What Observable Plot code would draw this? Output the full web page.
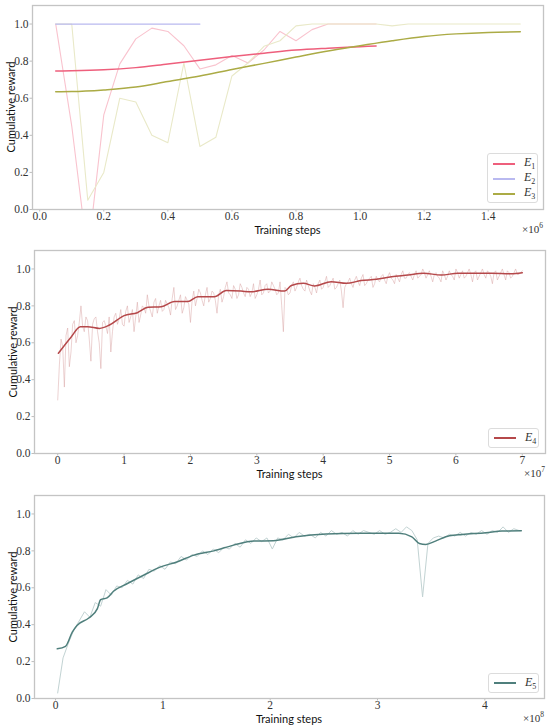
<!DOCTYPE html>
<html><head><meta charset="utf-8">
<script src="https://cdn.jsdelivr.net/npm/d3@7"></script>
<script src="https://cdn.jsdelivr.net/npm/@observablehq/plot@0.6"></script>
<style>
body{margin:0;background:#fff;}
#root{position:relative;width:550px;height:726px;overflow:hidden;}
.panel{position:absolute;left:0;width:550px;}
.panel svg{display:block;}
.lab{position:absolute;font-family:"Lato",sans-serif;font-size:11px;line-height:11px;color:#111;white-space:nowrap;}
.ylab{transform:translate(-50%,-50%) rotate(-90deg);}
.xlab{transform:translate(-50%,-50%);}
.mult{position:absolute;font-family:"Liberation Serif",serif;font-size:11px;line-height:11px;color:#333;transform:translate(-100%,-50%);}
.legend{position:absolute;border:1px solid #dcdcdc;border-radius:3px;background:#fff;box-sizing:border-box;padding:1px 0;}
.lrow{display:flex;align-items:center;height:15px;}
.lline{width:22px;height:2px;margin:0 9px 0 5px;}
.ltxt{font-family:"Liberation Serif",serif;font-style:italic;font-size:12px;color:#333;}
.ltxt sub{font-style:normal;font-size:8px;}
</style></head>
<body><div id="root"></div>
<script>
// ---------- Panel 1 (x in units of 1e6 training steps) ----------
const e1Raw = [1.0,0.45,-0.25,0.51,0.785,0.92,0.978,0.96,0.883,0.758,0.78,0.83,0.79,0.86,0.96,0.91,0.97,1.0,1.0,1.0,1.0];
const e2Raw = [1.0,1.0,1.0,1.0,1.0,1.0,1.0,1.0,1.0,1.0];
const e3Raw = [1.0,1.0,0.05,0.2,0.6,0.58,0.4,0.36,0.79,0.34,0.39,0.72,0.79,0.88,0.91,0.99,1.0,1.0,1.0,1.0,1.0,0.99,1.0,1.0,1.0,1.0,1.0,1.0,1.0,1.0];
const p1RawStart = 0.05, p1RawStep = 0.05;
const e1SmoothX = [0.05,0.1,0.2,0.3,0.4,0.5,0.6,0.7,0.8,0.9,1.0,1.05];
const e1Smooth  = [0.747,0.748,0.753,0.765,0.785,0.805,0.825,0.843,0.86,0.87,0.878,0.882];
const e3SmoothX = [0.05,0.1,0.2,0.3,0.4,0.5,0.6,0.7,0.8,0.9,1.0,1.1,1.2,1.3,1.4,1.5];
const e3Smooth  = [0.635,0.636,0.645,0.66,0.69,0.72,0.755,0.788,0.822,0.855,0.883,0.91,0.933,0.947,0.955,0.958];

// ---------- Panel 2 (x in units of 1e7) ----------
const e4RawStart = 0.0, e4RawStep = 0.05;
const e4Raw = [0.29,0.62,0.36,0.68,0.55,0.72,0.64,0.80,0.66,0.72,0.50,0.73,0.66,0.46,0.72,0.65,0.55,0.74,0.70,0.78,
0.69,0.80,0.74,0.66,0.82,0.75,0.79,0.86,0.77,0.82,0.76,0.83,0.78,0.81,0.75,0.90,0.80,0.86,0.79,0.83,
0.71,0.88,0.84,0.87,0.80,0.90,0.84,0.87,0.76,0.89,0.85,0.93,0.86,0.91,0.84,0.92,0.87,0.90,0.85,0.92,
0.86,0.94,0.87,0.92,0.88,0.91,0.86,0.93,0.66,0.89,0.87,0.93,0.90,0.95,0.89,0.94,0.88,0.92,0.87,0.94,
0.90,0.96,0.91,0.95,0.90,0.94,0.79,0.92,0.95,0.90,0.96,0.91,0.97,0.92,0.95,0.90,0.96,0.93,0.97,0.92,
0.98,0.94,0.97,0.93,0.99,0.95,0.98,0.94,0.99,0.96,1.00,0.95,0.99,0.93,0.98,0.95,0.99,0.94,0.99,0.96,
1.00,0.95,0.99,0.96,1.00,0.93,0.99,0.96,1.00,0.95,0.98,0.92,0.99,0.96,1.00,0.94,0.98,0.96,1.00,0.97,0.99];
// in-between samples (x = 0.025 + 0.05 i)
const e4RawMidStart = 0.025;
const e4RawMid = [0.48,0.58,0.64,0.47,0.70,0.60,0.71,0.69,0.74,0.62,
0.70,0.74,0.60,0.71,0.69,0.74,0.66,0.76,0.73,0.70,
0.77,0.71,0.78,0.74,0.71,0.80,0.76,0.80,0.74,0.84,
0.80,0.77,0.83,0.79,0.84,0.78,0.83,0.76,0.85,0.81,
0.83,0.80,0.89,0.83,0.86,0.82,0.88,0.83,0.86,0.82,
0.90,0.87,0.84,0.89,0.86,0.90,0.85,0.89,0.87,0.84,
0.89,0.86,0.91,0.87,0.93,0.89,0.87,0.80,0.90,0.86,
0.91,0.88,0.93,0.91,0.88,0.91,0.86,0.90,0.92,0.89,
0.93,0.90,0.93,0.89,0.92,0.88,0.90,0.93,0.92,0.94,
0.93,0.95,0.91,0.94,0.96,0.92,0.94,0.96,0.94,0.96,
0.95,0.92,0.95,0.97,0.95,0.97,0.96,0.97,0.95,0.97,
0.98,0.97,0.96,0.97,0.96,0.93,0.97,0.96,0.97,0.94,
0.98,0.97,0.95,0.98,0.97,0.98,0.94,0.98,0.97,0.99,
0.96,0.98,0.94,0.98,0.97,0.99,0.95,0.98,0.97,0.98];
const e4SmoothX = [0.01,0.2,0.34,0.45,0.63,0.78,1.0,1.2,1.36,1.56,1.76,1.96,2.11,2.36,2.54,2.76,2.91,3.17,3.42,3.52,3.70,3.87,4.12,4.35,4.57,4.80,5.03,5.28,5.51,5.78,6.03,6.53,6.83,7.0];
const e4Smooth  = [0.543,0.63,0.687,0.687,0.678,0.696,0.747,0.763,0.792,0.795,0.823,0.823,0.85,0.85,0.883,0.88,0.876,0.89,0.88,0.91,0.922,0.908,0.931,0.922,0.937,0.944,0.958,0.967,0.977,0.967,0.977,0.977,0.974,0.98];

// ---------- Panel 3 (x in units of 1e8) ----------
const e5RawStart = 0.02, e5RawStep = 0.05;
const e5Raw = [0.03,0.22,0.30,0.37,0.42,0.47,0.44,0.52,0.50,0.59,0.56,0.61,0.60,0.64,0.62,0.67,0.65,0.70,0.69,0.72,
0.70,0.74,0.73,0.77,0.75,0.78,0.77,0.80,0.78,0.81,0.79,0.82,0.81,0.84,0.82,0.86,0.84,0.87,0.85,0.87,
0.81,0.87,0.86,0.89,0.87,0.90,0.88,0.89,0.87,0.90,0.88,0.91,0.89,0.90,0.88,0.91,0.89,0.91,0.90,0.89,
0.91,0.89,0.90,0.92,0.90,0.93,0.91,0.86,0.55,0.84,0.87,0.88,0.87,0.89,0.88,0.90,0.88,0.90,0.89,0.91,
0.89,0.91,0.90,0.93,0.90,0.92,0.91];
const e5SmoothX = [0.016,0.093,0.156,0.2,0.31,0.39,0.42,0.48,0.54,0.67,0.82,0.98,1.13,1.29,1.475,1.66,1.85,2.03,2.24,2.52,2.83,3.20,3.32,3.39,3.45,3.54,3.67,3.79,4.01,4.16,4.34];
const e5Smooth  = [0.269,0.283,0.36,0.396,0.436,0.487,0.535,0.545,0.581,0.623,0.668,0.713,0.74,0.777,0.80,0.831,0.853,0.855,0.876,0.891,0.895,0.895,0.876,0.84,0.835,0.853,0.882,0.889,0.898,0.907,0.909];

// ---------- Legend / styling ----------
const legend1 = [{name:"E",sub:"1",color:"#ee5f7c"},{name:"E",sub:"2",color:"#b9b9f0"},{name:"E",sub:"3",color:"#abab45"}];
const legend2 = [{name:"E",sub:"4",color:"#b5484a"}];
const legend3 = [{name:"E",sub:"5",color:"#4f7f7c"}];
const yTicks = [0,0.2,0.4,0.6,0.8,1.0];

const pts = (xs, ys) => ys.map((y,i)=>({x:xs[i], y}));
const grid = (start, step, ys) => ys.map((y,i)=>({x:start+i*step, y}));
const f1 = d3.format(".1f");
const e4RawData = grid(e4RawStart,e4RawStep,e4Raw).concat(grid(e4RawMidStart,e4RawStep,e4RawMid)).sort((a,b)=>a.x-b.x);

function makePanel({top,height,mt,mb,ml,mr,xdom,xticks,xfmt,lines,legend,legendBox,mult,ylabX}) {
  const div = document.createElement("div");
  div.className = "panel"; div.style.top = top+"px"; div.style.height = height+"px";
  const chart = Plot.plot({
    width:550, height, marginTop:mt, marginBottom:mb, marginLeft:ml, marginRight:mr,
    x:{domain:xdom}, y:{domain:[0,1.1]},
    style:{fontFamily:"Liberation Serif",fontSize:"11.5px",color:"#333",background:"white"},
    marks:[
      ...lines,
      Plot.axisY({ticks:yTicks, tickFormat:f1, tickSize:2.5, tickPadding:1.5, stroke:"#bdbdbd", label:null}),
      Plot.axisX({ticks:xticks, tickFormat:xfmt, tickSize:2.5, tickPadding:0, stroke:"#bdbdbd", label:null}),
      Plot.frame({stroke:"#c4c4c4", strokeWidth:1.3})
    ]
  });
  div.appendChild(chart);
  const fTop = mt, fBot = height-mb, fL = ml, fR = 550-mr;
  const yl = document.createElement("div"); yl.className="lab ylab"; yl.textContent="Cumulative reward";
  yl.style.left = ylabX+"px"; yl.style.top = ((fTop+fBot)/2)+"px"; div.appendChild(yl);
  const xl = document.createElement("div"); xl.className="lab xlab"; xl.textContent="Training steps";
  xl.style.left = ((fL+fR)/2)+"px"; xl.style.top = (fBot+19.5)+"px"; div.appendChild(xl);
  const m = document.createElement("div"); m.className="mult"; m.innerHTML = "×10<sup style='font-size:7.5px;vertical-align:5px;line-height:0'>"+mult+"</sup>";
  m.style.left = (fR)+"px"; m.style.top = (fBot+19.5)+"px"; div.appendChild(m);
  const lg = document.createElement("div"); lg.className="legend";
  Object.assign(lg.style,{left:legendBox[0]+"px",top:legendBox[1]+"px",width:legendBox[2]+"px",height:legendBox[3]+"px"});
  lg.style.paddingTop = legendBox[4]+"px";
  for (const e of legend) {
    const r = document.createElement("div"); r.className="lrow";
    r.innerHTML = `<div class="lline" style="background:${e.color}"></div><span class="ltxt">${e.name}<sub>${e.sub}</sub></span>`;
    lg.appendChild(r);
  }
  div.appendChild(lg);
  return div;
}

const root = document.getElementById("root");
root.appendChild(makePanel({
  top:0, height:243, mt:5, mb:34, ml:32, mr:7, xdom:[-0.0225,1.5725],
  xticks:[0,0.2,0.4,0.6,0.8,1.0,1.2,1.4], xfmt:f1, mult:"6", ylabX:9.5,
  legend:legend1, legendBox:[487,153,51,50,2],
  lines:[
    Plot.line(grid(p1RawStart,p1RawStep,e1Raw),{x:"x",y:"y",stroke:"#f9c3ce",strokeWidth:1.1,clip:true}),
    Plot.line(grid(p1RawStart,p1RawStep,e3Raw),{x:"x",y:"y",stroke:"#e9e9c8",strokeWidth:1.1,clip:true}),
    Plot.line(grid(p1RawStart,p1RawStep,e2Raw),{x:"x",y:"y",stroke:"#b9b9f0",strokeWidth:1.2,clip:true}),
    Plot.line(pts(e1SmoothX,e1Smooth),{x:"x",y:"y",stroke:"#ee5f7c",strokeWidth:1.5,curve:"monotone-x"}),
    Plot.line(pts(e3SmoothX,e3Smooth),{x:"x",y:"y",stroke:"#abab45",strokeWidth:1.5,curve:"monotone-x"})
  ]
}));
root.appendChild(makePanel({
  top:243, height:243, mt:7, mb:33, ml:34, mr:5, xdom:[-0.35,7.35],
  xticks:[0,1,2,3,4,5,6,7], xfmt:d3.format("d"), mult:"7", ylabX:11.5,
  legend:legend2, legendBox:[488,185,51,20,1.5],
  lines:[
    Plot.line(e4RawData,{x:"x",y:"y",stroke:"#d9a4a4",strokeOpacity:0.7,strokeWidth:0.7,clip:true}),
    Plot.line(pts(e4SmoothX,e4Smooth),{x:"x",y:"y",stroke:"#b5484a",strokeWidth:1.5,curve:"monotone-x"})
  ]
}));
root.appendChild(makePanel({
  top:486, height:240, mt:9, mb:28, ml:34, mr:6, xdom:[-0.196,4.556],
  xticks:[0,1,2,3,4], xfmt:d3.format("d"), mult:"8", ylabX:11.5,
  legend:legend3, legendBox:[488,187,51,20,1.5],
  lines:[
    Plot.line(grid(e5RawStart,e5RawStep,e5Raw),{x:"x",y:"y",stroke:"#c2d3d3",strokeWidth:1,clip:true}),
    Plot.line(pts(e5SmoothX,e5Smooth),{x:"x",y:"y",stroke:"#4f7f7c",strokeWidth:1.5,curve:"monotone-x"})
  ]
}));
</script></body></html>
